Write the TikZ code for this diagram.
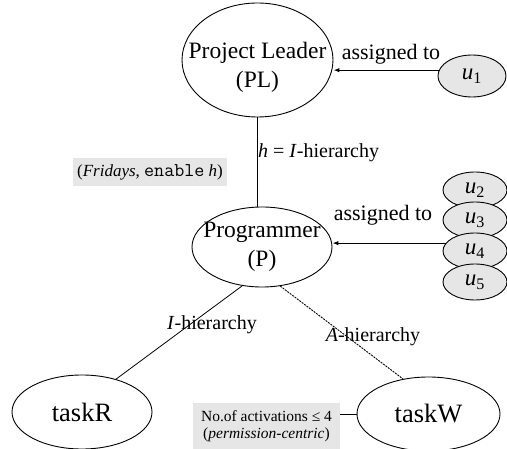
\documentclass[tikz,border=0pt]{standalone}
\usepackage{fontspec}
\setmainfont{Liberation Serif}
\usetikzlibrary{shapes.geometric,arrows.meta}
\definecolor{boxgrey}{HTML}{E6E6E6}
\begin{document}
\begin{tikzpicture}[x=1pt,y=-1pt,
  ell/.style={ellipse, draw, line width=0.9pt, inner sep=0pt},
  uell/.style={ell, fill=boxgrey, minimum width=64pt, minimum height=36pt},
  big/.style={font=\fontsize{23.5}{29}\selectfont, align=center, inner sep=0pt},
  tasktxt/.style={font=\fontsize{26.5}{30}\selectfont, inner sep=0pt},
  utxt/.style={font=\fontsize{23}{24}\selectfont, inner sep=0pt},
  lab/.style={font=\fontsize{20}{24}\selectfont, inner sep=1pt},
  asg/.style={font=\fontsize{22}{26}\selectfont, inner sep=0pt},
  gbox/.style={fill=boxgrey, inner sep=0pt, font=\fontsize{15.5}{16.5}\selectfont, align=center},
  conn/.style={line width=0.8pt},
  dconn/.style={line width=0.9pt, dash pattern=on 2pt off 1pt},
  arr/.style={line width=1.2pt, -{Latex[length=6pt,width=4.5pt]}}
]
\useasboundingbox (0,0) rectangle (507,449);

\node[ell, minimum width=151pt, minimum height=114pt,
  label={[big, yshift=-7pt]center:Project Leader\\(PL)}] (PL) at (257.5,60) {};
\node[ell, minimum width=140pt, minimum height=80pt,
  label={[big]center:Programmer\\(P)}] (P) at (262,247) {};
\node[ell, minimum width=140pt, minimum height=74pt,
  label={[tasktxt]center:taskR}] (tR) at (82,412) {};
\node[ell, minimum width=143pt, minimum height=74pt,
  label={[tasktxt]center:taskW}] (tW) at (428.5,414) {};

\node[uell, minimum width=68pt, minimum height=42pt,
  label={[utxt]center:\textit{u}\textsubscript{1}}] (u1) at (472,76) {};
\node[uell, label={[utxt]center:\textit{u}\textsubscript{2}}] (u2) at (475,190) {};
\node[uell, label={[utxt]center:\textit{u}\textsubscript{3}}] (u3) at (475,220) {};
\node[uell, label={[utxt]center:\textit{u}\textsubscript{4}}] (u4) at (475,251) {};
\node[uell, label={[utxt]center:\textit{u}\textsubscript{5}}] (u5) at (475,282) {};

\draw[conn] (PL.south) -- (PL.south |- P.north);
\draw[conn] (P.243) -- (tR.44);
\draw[dconn] (P.295) -- (tW.126);

\draw[arr] (u1.170) -- (u1.170 -| PL.east);
\draw[arr] (u4.165) -- (u4.165 -| P.east);

\node[asg] (as1) at (391,54) {assigned to};
\node[asg] (as2) at (383,215) {assigned to};
\node[lab, anchor=west] (hl) at (257,153) {\textit{h} = \textit{I}-hierarchy};
\node[lab] (il) at (212,325) {\textit{I}-hierarchy};
\node[lab] (al) at (373,337) {\textit{A}-hierarchy};

\node[gbox, font=\fontsize{17}{18}\selectfont, minimum width=154pt, minimum height=28pt] (fri) at (150,172)
  {(\textit{Fridays}, {\fontsize{19.5}{20}\selectfont\ttfamily enable} \textit{h})};
\node[gbox, minimum width=147pt, minimum height=46pt] (act) at (266.5,426)
  {No.of activations ≤ 4\\(\textit{permission-centric})};
\draw[conn] (act.east |- tW.west) -- (tW.west);
\end{tikzpicture}
\end{document}
